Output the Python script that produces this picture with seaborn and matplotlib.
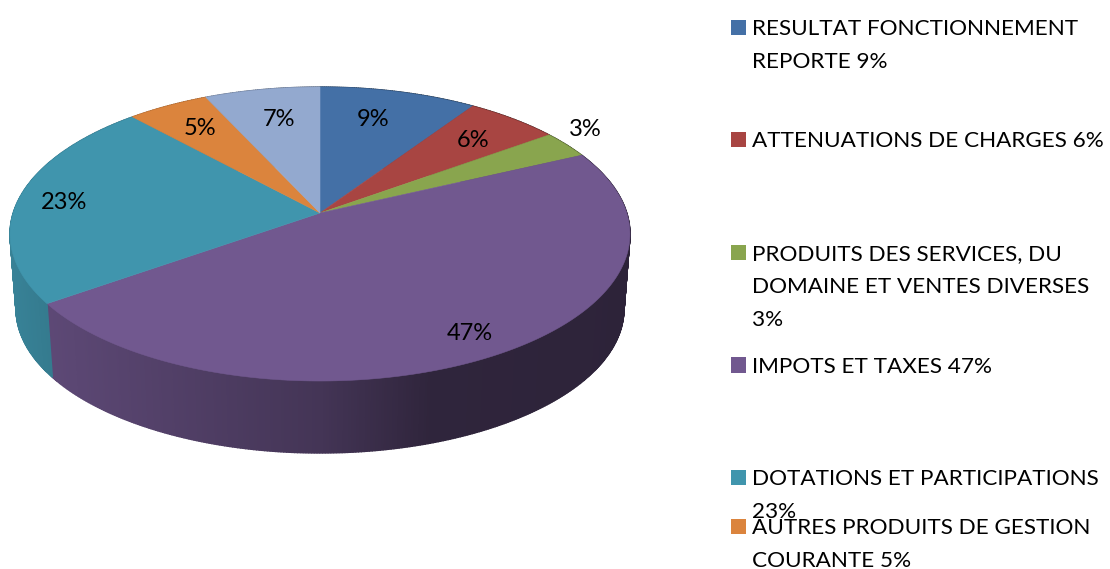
import numpy as np
import pandas as pd
import matplotlib
matplotlib.use("Agg")
import matplotlib.pyplot as plt
import seaborn as sns

# slices, clockwise from 12 o'clock
shares = [9.4, 5.6, 3.0, 47.2, 23.0, 4.9, 6.9]
slice_colors = ["#4470a6", "#a84542", "#89a54e", "#71588f", "#4095ad", "#db843d", "#93a9cf"]

legend_labels = [
    "RESULTAT FONCTIONNEMENT\nREPORTE 9%",
    "ATTENUATIONS DE CHARGES 6%",
    "PRODUITS DES SERVICES, DU\nDOMAINE ET VENTES DIVERSES\n3%",
    "IMPOTS ET TAXES 47%",
    "DOTATIONS ET PARTICIPATIONS\n23%",
    "AUTRES PRODUITS DE GESTION\nCOURANTE 5%",
]
legend_rows = [27.5, 139.5, 252.5, 365, 477.5, 526.5]
label_x = [373, 473, 585, 470, 64, 200, 279]
label_y = [119.5, 140.5, 129.5, 333.5, 202.5, 128.5, 119.5]

sns.set_theme(style="white")
plt.rcParams["font.family"] = ["Lato", "DejaVu Sans"]
palette = sns.color_palette(slice_colors)

fig = plt.figure(figsize=(11.1, 5.69), dpi=100)
ax = fig.add_axes([0, 0, 1, 1])
ax.set_xlim(0, 1110)
ax.set_ylim(569, 0)
ax.axis("off")


def disc(theta, cx=320, cy=213, rx=306.8, a=144, k=1 / 7):
    # perspective view of a flat disc, theta clockwise from the top
    x = np.sin(theta)
    y = np.cos(theta)
    w = 1 + k * y
    return cx + rx * x / w, cy - a * y / w


def shade(px):
    return np.interp(px, [10, 50, 320, 430, 630], [0.87, 0.82, 0.6, 0.42, 0.4])


edges = np.cumsum([0] + shares) / sum(shares) * 2 * np.pi

# rim first, the top face covers whatever faces away
for i, color in enumerate(palette):
    steps = np.linspace(edges[i], edges[i + 1], max(2, int(shares[i] * 8)))
    for t0, t1 in zip(steps[:-1], steps[1:]):
        x0, y0 = disc(np.array([t0, t1]))
        x1, y1 = disc(np.array([t0, t1]), cy=288.5, rx=300.8, a=141)
        c = np.array(color) * shade(x0.mean())
        ax.fill([x0[0], x0[1], x1[1], x1[0]], [y0[0], y0[1], y1[1], y1[0]],
                color=c, lw=1.0)

# top face
for i, color in enumerate(palette):
    t = np.linspace(edges[i], edges[i + 1], 200)
    x, y = disc(t)
    ax.fill(np.r_[320, x], np.r_[213, y], color=color, lw=0.4)

for lx, ly, s in zip(label_x, label_y, shares):
    ax.text(lx, ly, f"{round(s)}%", ha="center", va="center", fontsize=17, color="black")

# legend, the seventh entry does not fit on the picture
legend_df = pd.DataFrame({"x": [738.5] * len(legend_rows), "y": legend_rows,
                          "name": legend_labels})
sns.scatterplot(data=legend_df, x="x", y="y", hue="name", palette=slice_colors[:6],
                marker="s", s=118, linewidth=0, legend=False, ax=ax)
ax.set_xlim(0, 1110)
ax.set_ylim(569, 0)
ax.axis("off")

for row, label in zip(legend_rows, legend_labels):
    for j, line in enumerate(label.split("\n")):
        ax.text(752, row + 7.5 + j * 33, line, ha="left", va="baseline",
                fontsize=16.2, color="black")

fig.savefig("out.png", dpi=100)
